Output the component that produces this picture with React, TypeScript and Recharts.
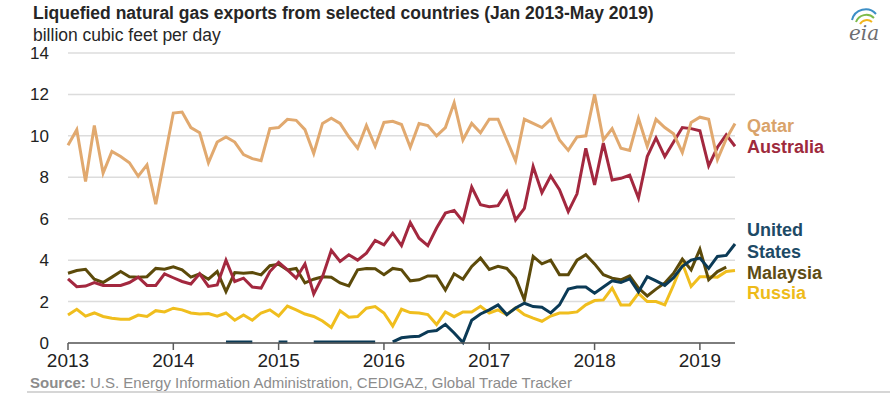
import { LineChart, Line, XAxis, YAxis, CartesianGrid } from 'recharts';

// monthly, Jan 2013 - May 2019 (bcf/d)
const qatar = [
  9.55, 10.3, 7.8, 10.5, 8.2, 9.25, 9.0, 8.7, 8.05, 8.6, 6.7, 8.9,
  11.1, 11.15, 10.4, 10.15, 8.7, 9.7, 9.95, 9.7, 9.1, 8.9, 8.8, 10.35,
  10.4, 10.8, 10.75, 10.3, 9.15, 10.6, 10.85, 10.6, 9.95, 9.4, 10.5, 9.5,
  10.65, 10.7, 10.55, 9.45, 10.6, 10.5, 10.0, 10.4, 11.6, 9.8, 10.6, 10.15,
  10.8, 10.8, 9.8, 8.8, 10.8, 10.6, 10.4, 10.8, 9.8, 9.3, 9.95, 10.0,
  12.0, 9.8, 10.35, 9.4, 9.3, 10.85, 9.5, 10.8, 10.4, 10.1, 9.2, 10.65,
  10.9, 10.8, 8.85, 9.85, 10.6,
];

const australia = [
  3.1, 2.72, 2.75, 2.92, 2.78, 2.78, 2.78, 2.92, 3.18, 2.78, 2.78, 3.34,
  3.15, 2.97, 2.85, 3.34, 2.73, 2.8, 4.0, 2.97, 3.13, 2.7, 2.65, 3.45,
  3.9, 3.53, 3.13, 3.82, 2.37, 3.2, 4.47, 3.94, 4.26, 4.0, 4.34, 4.95,
  4.74, 5.3, 4.7, 5.82, 5.06, 4.7, 5.55, 6.27, 6.4, 5.87, 7.53, 6.68,
  6.58, 6.63, 7.3, 5.94, 6.5, 8.52, 7.26, 8.06, 7.4, 6.34, 7.2, 9.4,
  7.63, 9.65, 7.87, 7.95, 8.1, 7.0, 9.0, 9.9, 9.0, 9.7, 10.4, 10.35,
  10.25, 8.55, 9.45, 10.05, 9.5,
];

const unitedStates = [
  null, null, null, null, null, null, null, null, null, null, null, null,
  null, null, null, null, null, null, 0.05, 0.05, 0.05, 0.05, null, null,
  0.05, 0.05, null, null, 0.05, 0.05, 0.05, 0.05, 0.05, 0.05, 0.05, 0.05,
  null, 0.05, 0.25, 0.3, 0.32, 0.55, 0.6, 0.9, 0.48, 0.02, 1.1, 1.4,
  1.6, 1.84, 1.37, 1.69, 1.92, 1.76, 1.73, 1.45, 1.84, 2.6, 2.7, 2.7,
  2.4, 2.7, 3.0, 2.92, 3.1, 2.47, 3.2, 3.0, 2.78, 3.15, 3.7, 4.0,
  4.1, 3.6, 4.18, 4.23, 4.78,
];

const malaysia = [
  3.37, 3.5, 3.56, 3.08, 2.92, 3.18, 3.45, 3.2, 3.18, 3.2, 3.6, 3.56,
  3.68, 3.53, 3.18, 3.34, 3.08, 3.45, 2.48, 3.4, 3.37, 3.4, 3.29, 3.73,
  3.8, 3.53, 3.6, 2.9, 3.08, 3.2, 3.18, 2.9, 2.76, 3.53, 3.6, 3.58,
  3.3, 3.6, 3.53, 3.0, 3.05, 3.24, 3.24, 2.56, 3.34, 3.08, 3.7, 4.1,
  3.55, 3.7, 3.6, 3.13, 2.08, 4.18, 3.82, 4.0, 3.3, 3.3, 4.0, 4.26,
  3.82, 3.3, 3.13, 3.05, 3.24, 2.65, 2.27, 2.6, 2.9, 3.37, 4.05, 3.53,
  4.53, 3.05, 3.45, 3.66, null,
];

const russia = [
  1.35, 1.63, 1.3, 1.45, 1.28, 1.2, 1.15, 1.15, 1.35, 1.28, 1.56, 1.5,
  1.68, 1.6, 1.45, 1.4, 1.42, 1.3, 1.45, 1.1, 1.35, 1.1, 1.45, 1.6,
  1.3, 1.78, 1.6, 1.4, 1.28, 1.06, 0.75, 1.56, 1.24, 1.28, 1.68, 1.76,
  1.45, 0.82, 1.63, 1.47, 1.45, 1.37, 0.89, 1.5, 1.27, 1.5, 1.5, 1.77,
  1.45, 1.6, 1.37, 1.69, 1.37, 1.2, 1.05, 1.3, 1.45, 1.45, 1.5, 1.84,
  2.05, 2.08, 2.65, 1.84, 1.84, 2.4, 2.0, 2.0, 1.84, 2.8, 3.85, 2.73,
  3.2, 3.2, 3.18, 3.45, 3.5,
];

const years = ['2013', '2014', '2015', '2016', '2017', '2018', '2019'];
const yearTicks = [0, 12, 24, 36, 48, 60, 72];
const yTicks = [0, 2, 4, 6, 8, 10, 12, 14];

const data = qatar.map((q, i) => ({
  i,
  qatar: q,
  australia: australia[i],
  unitedStates: unitedStates[i],
  malaysia: malaysia[i],
  russia: russia[i],
}));

const FONT = '"Liberation Sans", Arial, sans-serif';

export default function App() {
  return (
    <div style={{ position: 'absolute', left: 0, top: 0, width: 890, height: 395, background: '#fff', fontFamily: FONT }}>
      <LineChart width={890} height={395} data={data} margin={{ top: 53, right: 155, left: 0, bottom: 22 }}>
        <CartesianGrid vertical={false} stroke="#dcdcdc" strokeWidth={1.5} />
        <XAxis
          dataKey="i"
          type="number"
          domain={[0, 76]}
          ticks={yearTicks}
          tickFormatter={(v) => years[yearTicks.indexOf(v)]}
          height={30}
          stroke="#5a5a5a"
          strokeWidth={1.5}
          tickSize={7}
          tickMargin={4}
          tick={{ fill: '#222', fontSize: 19, fontFamily: '"Liberation Sans Narrow", "Liberation Sans", Arial' }}
        />
        <YAxis
          domain={[0, 14]}
          ticks={yTicks}
          width={68}
          axisLine={false}
          tickLine={false}
          tickSize={0}
          tickMargin={19}
          tick={{ fill: '#222', fontSize: 17, fontFamily: FONT }}
        />
        <Line dataKey="russia" stroke="#f0be1e" strokeWidth={3} dot={false} isAnimationActive={false} />
        <Line dataKey="malaysia" stroke="#5c4a0a" strokeWidth={3} dot={false} isAnimationActive={false} />
        <Line dataKey="unitedStates" stroke="#0b3a56" strokeWidth={3} dot={false} isAnimationActive={false} />
        <Line dataKey="australia" stroke="#a3283f" strokeWidth={3} dot={false} isAnimationActive={false} />
        <Line dataKey="qatar" stroke="#e1a96f" strokeWidth={3} dot={false} isAnimationActive={false} />
      </LineChart>
      <svg width={890} height={395} style={{ position: 'absolute', left: 0, top: 0, pointerEvents: 'none' }}>
        <text x={33} y={19} fontSize={17.5} fontWeight="bold" fill="#262626">
          Liquefied natural gas exports from selected countries (Jan 2013-May 2019)
        </text>
        <text x={33} y={41} fontSize={17.5} fill="#262626">billion cubic feet per day</text>
        <g fontSize={18} fontWeight="bold" dominantBaseline="central">
          <text x={747} y={126} fill="#d9a36b">Qatar</text>
          <text x={747} y={147} fill="#9e2a3c">Australia</text>
          <text x={747} y={230} fill="#1d4a66">United</text>
          <text x={747} y={252} fill="#1d4a66">States</text>
          <text x={747} y={273} fill="#5e4c14">Malaysia</text>
          <text x={747} y={293} fill="#eebb1a">Russia</text>
        </g>
        <text x={30} y={388} fontSize={15} fill="#8c8c8c">
          <tspan fontWeight="bold">Source:</tspan> U.S. Energy Information Administration, CEDIGAZ, Global Trade Tracker
        </text>
        <line x1={27} x2={890} y1={392} y2={392} stroke="#c8c8c8" strokeWidth={1.5} />
        <g>
          <path d="M852 20 A14 14 0 0 1 876 14" fill="none" stroke="#3d8fc6" strokeWidth={2} />
          <path d="M856 22 A11 11 0 0 1 874 18" fill="none" stroke="#7dba4a" strokeWidth={2} />
          <path d="M860 24 A8 8 0 0 1 872 22" fill="none" stroke="#f2b51c" strokeWidth={2} />
          <text x={849} y={40} fontSize={20} fontStyle="italic" fill="#6d6e71" fontFamily="'DejaVu Serif', serif">eia</text>
        </g>
      </svg>
    </div>
  );
}
